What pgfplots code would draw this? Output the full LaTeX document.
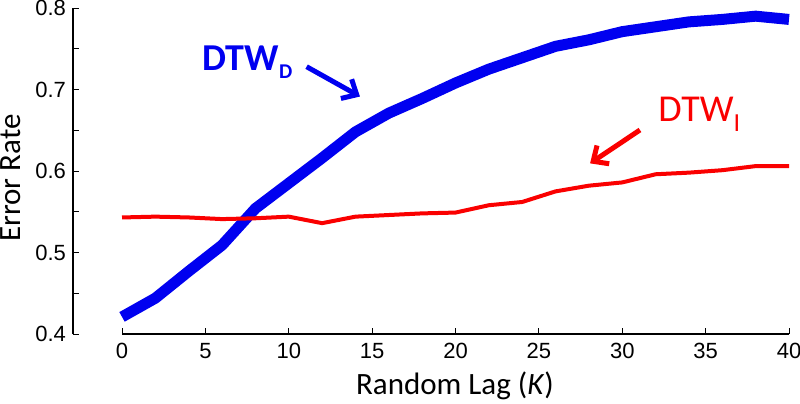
\documentclass[border=0pt]{standalone}
\usepackage{fontspec}
\setmainfont{Carlito}
\newfontfamily\arial{Liberation Sans}
\usepackage{pgfplots}
\pgfplotsset{compat=1.18}
\usetikzlibrary{arrows.meta}
\definecolor{dtwd}{RGB}{0,0,240}
\definecolor{dtwi}{RGB}{250,0,0}

\begin{document}
\begin{tikzpicture}
\begin{axis}[
	at={(0,0)}, anchor=south west,
	scale only axis,
	width=358pt, height=163pt,
	xmin=-2.94, xmax=40,
	ymin=0.4, ymax=0.8,
	clip=false,
	axis x line*=bottom,
	axis y line*=left,
	x axis line style={draw=none},
	y axis line style={line width=0.6pt},
	xtick={0,5,...,40},
	ytick={0.4,0.5,0.6,0.7,0.8},
	minor ytick={0.45,0.55,0.65,0.75},
	tick align=inside,
	major tick length=3pt,
	minor tick length=3pt,
	tick style={black, line width=0.5pt},
	/pgf/number format/assume math mode=true,
	tick label style={font=\arial\fontsize{11}{11}\selectfont},
	yticklabel style={/pgf/number format/.cd, fixed, fixed zerofill, precision=1},
	xticklabel style={yshift=-1pt},
	xlabel={Random Lag (\textit{K})},
	ylabel={Error Rate},
	label style={font=\fontsize{15.5}{15.5}\selectfont},
	xlabel style={at={(axis description cs:0.5335,0)}, anchor=base, yshift=-30pt},
	ylabel style={at={(axis description cs:-0.073,0.478)}, anchor=base, rotate=0},
]
\addplot[dtwd, line width=5.5pt, line join=round] coordinates {
	(0,0.421) (2,0.444) (4,0.477) (6,0.509) (8,0.554) (10,0.585)
	(12,0.616) (14,0.648) (16,0.671) (18,0.689) (20,0.708) (22,0.725)
	(24,0.739) (26,0.753) (28,0.761) (30,0.771) (32,0.777) (34,0.783)
	(36,0.786) (38,0.790) (40,0.786)
};
\addplot[dtwi, line width=2pt, line join=round] coordinates {
	(0,0.543) (2,0.544) (4,0.543) (6,0.541) (8,0.542) (10,0.544)
	(12,0.536) (14,0.544) (16,0.546) (18,0.548) (20,0.549) (22,0.558)
	(24,0.562) (26,0.575) (28,0.582) (30,0.586) (32,0.596) (34,0.598)
	(36,0.601) (38,0.606) (40,0.606)
};
\draw[black, line width=0.6pt] (axis cs:0,0.4) -- (axis cs:40,0.4);
\node[dtwd, anchor=base west, inner sep=0pt, font=\bfseries\fontsize{19}{19}\selectfont]
	at (axis cs:4.80,0.7239) {DTW\raisebox{-4pt}{\fontsize{10.5}{10.5}\selectfont D}};
\draw[dtwd, line width=2.5pt, -{Straight Barb[length=6pt, width=11pt]}]
	(axis cs:11.07,0.7280) -- (axis cs:14.27,0.6914);
\node[dtwi, anchor=base west, inner sep=0pt, font=\fontsize{19}{19}\selectfont]
	at (axis cs:32.14,0.6606) {DTW\raisebox{-5pt}{\fontsize{13}{13}\selectfont I}};
\draw[dtwi, line width=2.5pt, -{Straight Barb[length=6pt, width=11pt]}]
	(axis cs:31.06,0.6503) -- (axis cs:28.07,0.6094);
\end{axis}
\pgfresetboundingbox
\path[use as bounding box] (-36.5pt,-34.5pt) rectangle (363.5pt,167pt);
\end{tikzpicture}
\end{document}
